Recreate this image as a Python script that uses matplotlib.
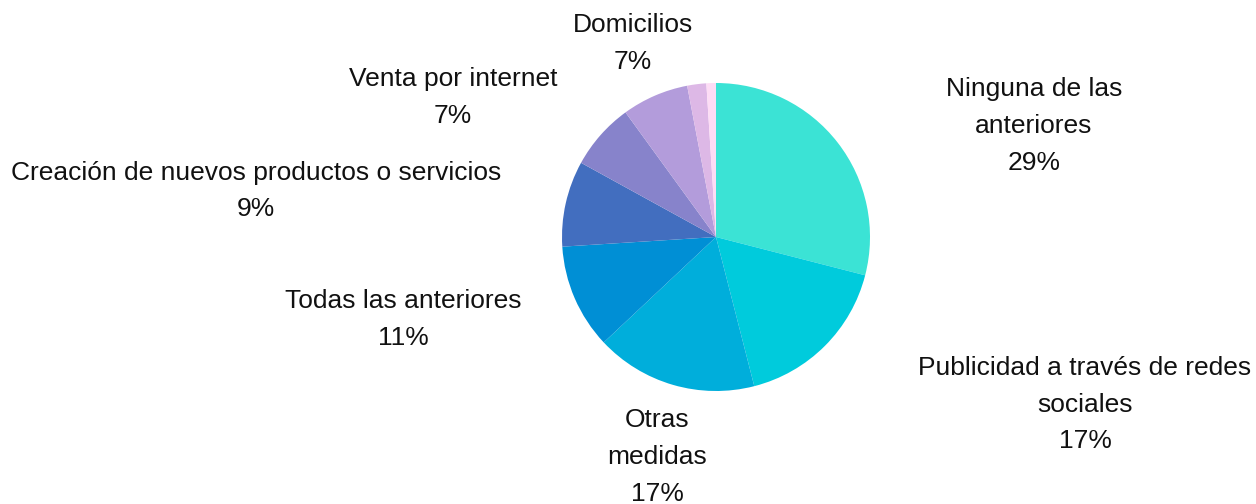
import matplotlib
matplotlib.use("Agg")
import matplotlib.pyplot as plt

# slice data, clockwise from 12 o'clock
categories = ["Ninguna de las\nanteriores", "Publicidad a través de redes\nsociales",
              "Otras\nmedidas", "Todas las anteriores",
              "Creación de nuevos productos o servicios", "Venta por internet",
              "Domicilios", "", ""]
values = [29, 17, 17, 11, 9, 7, 7, 2, 1]
colors = ["#3BE3D5", "#00CBDC", "#00AEDB", "#008FD5", "#426EBF",
          "#8783CB", "#B39CDB", "#DDB8E6", "#FDDCF5"]
# label centres in pixel coordinates (x, y from top)
label_pos = [(1034, 126), (1085, 404.5), (657, 457), (403, 319.5),
             (256, 191), (453, 97.5), (633, 43.5), None, None]

W, H = 1256, 504
fig = plt.figure(figsize=(W / 100, H / 100), dpi=100)
ax = fig.add_axes([0, 0, 1, 1])

ax.pie(values, colors=colors, startangle=90, counterclock=False,
       center=(716, H - 237), radius=154, frame=True,
       wedgeprops=dict(linewidth=0))
ax.set_xlim(0, W)
ax.set_ylim(0, H)
ax.set_aspect("equal")
ax.axis("off")

for cat, val, pos in zip(categories, values, label_pos):
    if not cat or pos is None:
        continue
    ax.text(pos[0], H - pos[1], f"{cat}\n{val}%", ha="center", va="center",
            multialignment="center", fontsize=19, linespacing=1.68,
            family="Liberation Sans", color="#111111")

fig.savefig("out.png", dpi=100)
